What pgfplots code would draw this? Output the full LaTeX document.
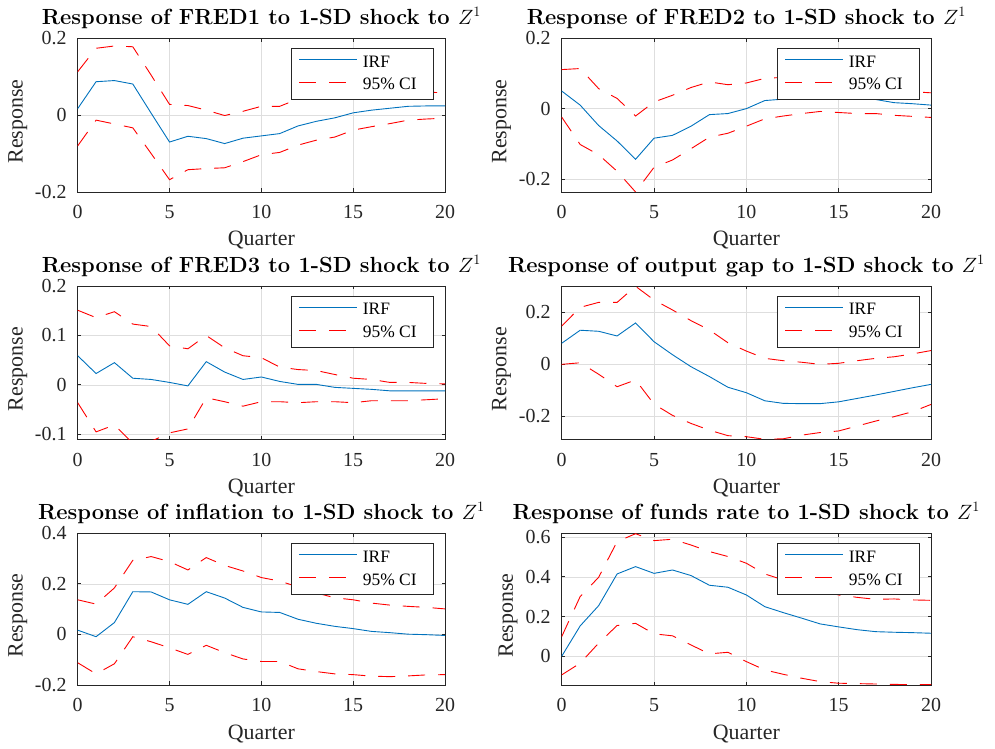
\documentclass[border=0pt]{standalone}
\usepackage{fontspec}
\usepackage{pgfplots}
\usepackage{pgfplotstable}
\pgfplotsset{compat=1.18}
\newfontfamily\timesfont{Liberation Serif}
\definecolor{irfblue}{rgb}{0,0.447,0.741}
\definecolor{axgray}{rgb}{0.15,0.15,0.15}

\pgfplotstableread{
q irf lo hi
0 0.017 -0.080 0.113
1 0.087 -0.013 0.174
2 0.090 -0.023 0.180
3 0.081 -0.033 0.178
4 0.005 -0.100 0.104
5 -0.070 -0.168 0.028
6 -0.055 -0.142 0.025
7 -0.061 -0.139 0.013
8 -0.074 -0.137 -0.001
9 -0.060 -0.121 0.010
10 -0.054 -0.103 0.023
11 -0.048 -0.097 0.023
12 -0.028 -0.078 0.042
13 -0.016 -0.065 0.050
14 -0.007 -0.057 0.055
15 0.006 -0.039 0.058
16 0.013 -0.030 0.060
17 0.018 -0.022 0.062
18 0.023 -0.013 0.062
19 0.024 -0.010 0.060
20 0.024 -0.008 0.058
}\fredone

\pgfplotstableread{
q irf lo hi
0 0.050 -0.024 0.111
1 0.010 -0.102 0.114
2 -0.048 -0.131 0.057
3 -0.092 -0.178 0.029
4 -0.144 -0.237 -0.021
5 -0.084 -0.167 0.019
6 -0.076 -0.146 0.038
7 -0.050 -0.114 0.060
8 -0.017 -0.081 0.076
9 -0.014 -0.070 0.068
10 0.000 -0.050 0.073
11 0.023 -0.029 0.086
12 0.027 -0.021 0.089
13 0.028 -0.014 0.090
14 0.029 -0.008 0.088
15 0.029 -0.011 0.083
16 0.028 -0.014 0.075
17 0.026 -0.014 0.065
18 0.017 -0.019 0.055
19 0.014 -0.022 0.048
20 0.010 -0.025 0.045
}\fredtwo

\pgfplotstableread{
q irf lo hi
0 0.059 -0.036 0.151
1 0.023 -0.095 0.136
2 0.045 -0.081 0.148
3 0.0135 -0.118 0.123
4 0.011 -0.114 0.118
5 0.005 -0.097 0.079
6 -0.002 -0.089 0.073
7 0.047 -0.026 0.100
8 0.026 -0.034 0.075
9 0.011 -0.043 0.059
10 0.016 -0.034 0.055
11 0.007 -0.034 0.036
12 0.001 -0.036 0.031
13 0.001 -0.034 0.029
14 -0.005 -0.034 0.021
15 -0.007 -0.036 0.0135
16 -0.009 -0.032 0.011
17 -0.012 -0.032 0.005
18 -0.012 -0.032 0.005
19 -0.012 -0.030 0.003
20 -0.012 -0.028 0.002
}\fredthree

\pgfplotstableread{
q irf lo hi
0 0.081 0.000 0.147
1 0.131 0.006 0.219
2 0.127 -0.038 0.238
3 0.109 -0.086 0.238
4 0.159 -0.060 0.300
5 0.087 -0.153 0.247
6 0.037 -0.196 0.209
7 -0.009 -0.227 0.168
8 -0.047 -0.253 0.132
9 -0.088 -0.274 0.083
10 -0.109 -0.278 0.051
11 -0.140 -0.288 0.023
12 -0.150 -0.286 0.014
13 -0.151 -0.272 0.008
14 -0.151 -0.262 0.000
15 -0.144 -0.256 0.004
16 -0.131 -0.237 0.014
17 -0.118 -0.218 0.023
18 -0.104 -0.201 0.029
19 -0.090 -0.182 0.040
20 -0.077 -0.154 0.053
}\outgap

\pgfplotstableread{
q irf lo hi
0 0.017 -0.112 0.137
1 -0.009 -0.156 0.120
2 0.047 -0.116 0.184
3 0.169 -0.009 0.293
4 0.168 -0.029 0.308
5 0.137 -0.053 0.288
6 0.119 -0.079 0.255
7 0.169 -0.043 0.304
8 0.144 -0.072 0.273
9 0.107 -0.097 0.251
10 0.089 -0.107 0.225
11 0.087 -0.107 0.211
12 0.060 -0.136 0.188
13 0.044 -0.147 0.164
14 0.032 -0.156 0.145
15 0.023 -0.159 0.137
16 0.012 -0.165 0.124
17 0.007 -0.167 0.116
18 0.001 -0.164 0.111
19 -0.001 -0.160 0.107
20 -0.004 -0.159 0.101
}\inflation

\pgfplotstableread{
q irf lo hi
0 0.000 -0.094 0.099
1 0.153 -0.035 0.301
2 0.255 0.066 0.398
3 0.415 0.155 0.578
4 0.452 0.166 0.618
5 0.418 0.113 0.583
6 0.435 0.103 0.590
7 0.407 0.057 0.561
8 0.358 0.012 0.528
9 0.348 0.020 0.503
10 0.309 -0.027 0.469
11 0.250 -0.069 0.415
12 0.220 -0.091 0.385
13 0.192 -0.111 0.355
14 0.163 -0.128 0.330
15 0.148 -0.136 0.309
16 0.134 -0.138 0.297
17 0.124 -0.140 0.287
18 0.121 -0.142 0.289
19 0.119 -0.143 0.284
20 0.116 -0.143 0.282
}\funds

\pgfplotsset{
  irfaxis/.style={
    scale only axis, anchor=south west,
    xmin=0, xmax=20, xtick={0,5,...,20},
    tick align=inside, major tick length=3.5bp,
    axis line style={axgray, line width=0.9bp},
    every tick/.style={axgray, line width=0.9bp},
    grid=major, major grid style={black!13, line width=0.6bp},
    /pgf/number format/assume math mode=true,
    ticklabel style={font=\timesfont\fontsize{20}{24}\selectfont, text=axgray},
    xticklabel style={anchor=base, yshift=-27bp},
    yticklabel style={anchor=east, inner sep=0pt, xshift=-11bp},
    xlabel={Quarter}, ylabel={Response},
    label style={font=\timesfont\fontsize{22}{26}\selectfont, text=axgray, inner sep=0pt},
    xlabel style={at={(axis description cs:0.5,0)}, anchor=base, yshift=-54bp},
    ylabel style={at={(axis description cs:-0.15,0.458)}, anchor=base},
    title style={font=\fontsize{22}{26}\selectfont\bfseries, inner sep=0pt, at={(axis description cs:0.5,1)}, anchor=base, yshift=8bp},
    legend image code/.code={\draw[##1] (0bp,3bp) -- (58bp,3bp);},
    legend style={at={(rel axis cs:1,1)}, anchor=north east, xshift=-11.7bp, yshift=-10bp,
      draw=axgray, line width=0.8bp, fill=white, inner xsep=7.7bp, inner ysep=6.6bp,
      font=\timesfont\fontsize{17.5}{20}\selectfont, row sep=7.7bp, column sep=5bp,
      nodes={inner sep=0pt, text height=12bp, text depth=3bp, anchor=west}},
  },
  irf/.style={irfblue, line width=0.9bp},
  ci/.style={red, line width=0.9bp, dash pattern=on 17bp off 13bp},
}

\newcommand{\panel}[1]{%
  \addplot[irf] table[x=q,y=irf] {#1};
  \addlegendentry{\makebox[62.3bp][l]{IRF}}
  \addplot[ci] table[x=q,y=hi] {#1};
  \addlegendentry{\makebox[62.3bp][l]{95\% CI}}
  \addplot[ci, forget plot] table[x=q,y=lo] {#1};
}

\begin{document}
\begin{tikzpicture}
\path[use as bounding box] (0bp,0bp) rectangle (995bp,749bp);

\begin{axis}[irfaxis, at={(77.7bp,557bp)}, width=367.3bp, height=153.7bp,
  ymin=-0.2, ymax=0.2, ytick={-0.2,0,0.2},
  title={Response of FRED1 to 1-SD shock to $Z^1$}]
\panel{\fredone}
\end{axis}

\begin{axis}[irfaxis, at={(561.7bp,557bp)}, width=369.3bp, height=153.7bp,
  ymin=-0.237, ymax=0.2, ytick={-0.2,0,0.2},
  title={Response of FRED2 to 1-SD shock to $Z^1$}]
\panel{\fredtwo}
\end{axis}

\begin{axis}[irfaxis, at={(77.7bp,309.7bp)}, width=367.3bp, height=153.3bp,
  ymin=-0.11, ymax=0.2, ytick={-0.1,0,0.1,0.2},
  title={Response of FRED3 to 1-SD shock to $Z^1$}]
\panel{\fredthree}
\end{axis}

\begin{axis}[irfaxis, at={(561.7bp,309.7bp)}, width=369.3bp, height=153.3bp,
  ymin=-0.288, ymax=0.301, ytick={-0.2,0,0.2},
  title={Response of output gap to 1-SD shock to $Z^1$}]
\panel{\outgap}
\end{axis}

\begin{axis}[irfaxis, at={(77.7bp,64bp)}, width=367.3bp, height=151.7bp,
  ymin=-0.2, ymax=0.4, ytick={-0.2,0,0.2,0.4},
  title={Response of inflation to 1-SD shock to $Z^1$}]
\panel{\inflation}
\end{axis}

\begin{axis}[irfaxis, at={(561.7bp,64bp)}, width=369.3bp, height=151.7bp,
  ymin=-0.145, ymax=0.62, ytick={0,0.2,0.4,0.6},
  ylabel style={at={(axis description cs:-0.132,0.458)}},
  title={Response of funds rate to 1-SD shock to $Z^1$}]
\panel{\funds}
\end{axis}
\end{tikzpicture}
\end{document}
